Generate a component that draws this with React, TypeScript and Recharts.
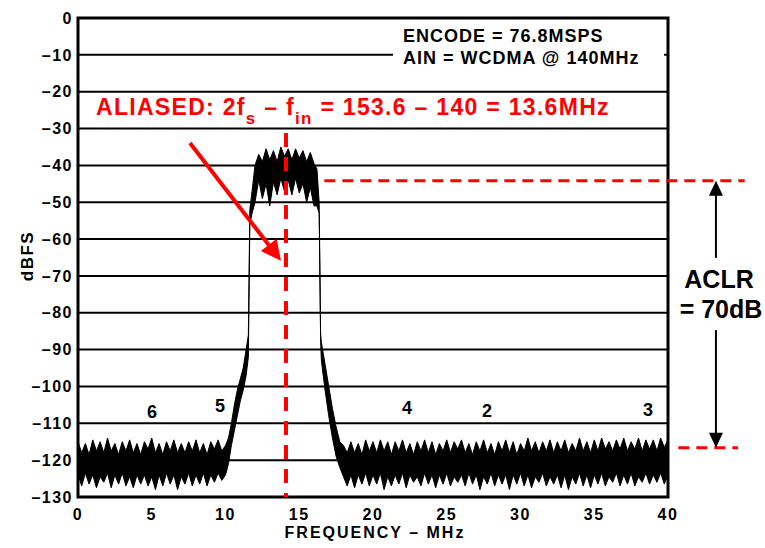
import React from "react";
import { ComposedChart, Area, XAxis, YAxis, CartesianGrid, ReferenceLine, ReferenceArea } from "recharts";

const FONT = '"Liberation Sans", Arial, Helvetica, sans-serif';
const RED = "#ff0000";

// frequency bins, MHz
const freqMHz = [
  0, 0.25, 0.5, 0.75, 1, 1.25, 1.5, 1.75, 2, 2.25,
  2.5, 2.75, 3, 3.25, 3.5, 3.75, 4, 4.25, 4.5, 4.75,
  5, 5.25, 5.5, 5.75, 6, 6.25, 6.5, 6.75, 7, 7.25,
  7.5, 7.75, 8, 8.25, 8.5, 8.75, 9, 9.25, 9.5, 9.75,
  10, 10.2, 10.4, 10.6, 10.8, 11, 11.2, 11.4, 11.55, 11.65,
  11.8, 12, 12.25, 12.5, 12.75, 13, 13.25, 13.5, 13.75, 14,
  14.25, 14.5, 14.75, 15, 15.25, 15.5, 15.75, 16, 16.2, 16.35,
  16.45, 16.5, 16.75, 17, 17.25, 17.5, 17.75, 18, 18.25, 18.5,
  18.75, 19, 19.25, 19.5, 19.75, 20, 20.25, 20.5, 20.75, 21,
  21.25, 21.5, 21.75, 22, 22.25, 22.5, 22.75, 23, 23.25, 23.5,
  23.75, 24, 24.25, 24.5, 24.75, 25, 25.25, 25.5, 25.75, 26,
  26.25, 26.5, 26.75, 27, 27.25, 27.5, 27.75, 28, 28.25, 28.5,
  28.75, 29, 29.25, 29.5, 29.75, 30, 30.25, 30.5, 30.75, 31,
  31.25, 31.5, 31.75, 32, 32.25, 32.5, 32.75, 33, 33.25, 33.5,
  33.75, 34, 34.25, 34.5, 34.75, 35, 35.25, 35.5, 35.75, 36,
  36.25, 36.5, 36.75, 37, 37.25, 37.5, 37.75, 38, 38.25, 38.5,
  38.75, 39, 39.25, 39.5, 39.75, 40,
];

// upper envelope of the FFT trace, dBFS
const peakDbfs = [
  -115, -118, -115.5, -118.5, -114.5, -117.5, -115, -118, -114, -117.5,
  -115.5, -118.5, -115, -117.5, -114.5, -118, -115.5, -118.5, -115, -117,
  -114, -118, -115.5, -118.5, -115, -117.5, -114.5, -118, -115.5, -118,
  -115, -117.5, -114.5, -118, -115.5, -118.5, -115, -117, -114.5, -117.5,
  -116, -114, -110, -105, -101, -98, -95, -90, -86, -52,
  -47, -40, -37, -39, -35.5, -38.5, -36, -39, -35, -37.5,
  -35.5, -38.5, -35.5, -38, -36, -39, -36.5, -39.5, -41, -50,
  -86, -88, -94, -100, -106, -111, -115, -116, -118, -115,
  -118, -115.5, -118.5, -114.5, -117.5, -115, -118, -114.5, -117.5, -115,
  -118.5, -115, -117.5, -114.5, -118, -115.5, -118.5, -115, -117.5, -114.5,
  -118, -115, -118.5, -115.5, -117.5, -114.5, -118, -115, -117, -114.5,
  -118, -115.5, -118.5, -115, -117.5, -114.5, -118, -115.5, -118.5, -115,
  -117.5, -114.5, -118, -115, -118.5, -115.5, -117.5, -114, -117.5, -115,
  -118, -115, -117.5, -114.5, -118, -115, -117.5, -114.5, -118, -115.5,
  -117.5, -114, -117.5, -115, -118, -114.5, -117.5, -114, -117, -115,
  -117.5, -114.5, -117, -114, -117.5, -115, -117, -114, -117.5, -114.5,
  -117, -114.5, -117.5, -114, -116.5, -114.5,
];

// lower envelope of the FFT trace, dBFS
const floorDbfs = [
  -124, -127, -123.5, -126.5, -124, -127.5, -124.5, -126, -123.5, -127.5,
  -124, -126.5, -123.5, -127, -124.5, -127.5, -124, -126.5, -124, -127,
  -124.5, -128, -124, -127, -123.5, -126.5, -124, -128, -124.5, -126.5,
  -123.5, -127, -124, -126.5, -123.5, -127, -124, -126, -123.5, -125.5,
  -124, -121, -116, -112, -108, -104, -101, -97, -92, -56,
  -53, -50, -44, -49, -45, -51, -44.5, -48, -43.5, -47,
  -44, -48, -43.5, -47.5, -45, -50, -46, -51, -51, -53,
  -88, -93, -101, -108, -114, -119, -122, -124.5, -127, -124,
  -127.5, -124, -126.5, -123.5, -127, -124, -126.5, -123.5, -128, -124.5,
  -127, -124, -126.5, -123.5, -127.5, -124, -126, -124.5, -127, -123.5,
  -126.5, -124, -127.5, -124, -126.5, -123.5, -127, -124.5, -126, -124,
  -127, -123.5, -126.5, -124, -128, -124.5, -126.5, -123.5, -127, -124,
  -126.5, -124, -128, -124, -126.5, -123.5, -127, -124, -127.5, -124.5,
  -126, -123.5, -127, -124.5, -126.5, -124, -127.5, -124, -128, -124.5,
  -126.5, -123.5, -127, -124, -127.5, -124, -126.5, -123.5, -127, -124.5,
  -126, -123.5, -127, -124, -126.5, -123.5, -127, -124.5, -126, -123.5,
  -126.5, -124, -126, -123.5, -126.5, -124,
];

const xTicks = [0, 5, 10, 15, 20, 25, 30, 35, 40];
const yTicks = [0, -10, -20, -30, -40, -50, -60, -70, -80, -90, -100, -110, -120, -130];

// annotation values (MHz / dBFS)
const aliasMarkerMHz = 14.1;
const carrierLevel = -44.2;
const noiseLevel = -116.6;
const aclrArrowMHz = 43.25;

const spectrum = freqMHz.map((f, i) => ({ f, band: [floorDbfs[i], peakDbfs[i]] }));

const fmtDb = (v: number) => (v < 0 ? "\u2013" + Math.abs(v) : String(v));

const XTick = (p: any) => (
  <text x={p.x} y={p.y} dy="0.71em" textAnchor="middle" fontFamily={FONT} fontSize={16}
    fontWeight="bold" letterSpacing={1.5} fill="#000">
    {p.payload.value}
  </text>
);

const YTick = (p: any) => (
  <text x={p.x} y={p.y} dy="0.355em" textAnchor="end" fontFamily={FONT} fontSize={16}
    fontWeight="bold" letterSpacing={1.5} fill="#000">
    {fmtDb(p.payload.value)}
  </text>
);

// line with arrow heads, drawn from the reference line's end points
const arrowShape = (color: string, width: number, len: number, half: number, atStart: boolean, atEnd: boolean) =>
  (p: any) => {
    const { x1, y1, x2, y2 } = p;
    const dx = x2 - x1;
    const dy = y2 - y1;
    const d = Math.sqrt(dx * dx + dy * dy) || 1;
    const ux = dx / d;
    const uy = dy / d;
    const head = (tx: number, ty: number, sx: number, sy: number) => {
      const bx = tx - sx * len;
      const by = ty - sy * len;
      return `${tx},${ty} ${bx - sy * half},${by + sx * half} ${bx + sy * half},${by - sx * half}`;
    };
    const ax = atStart ? x1 + ux * len * 0.8 : x1;
    const ay = atStart ? y1 + uy * len * 0.8 : y1;
    const bx = atEnd ? x2 - ux * len * 0.8 : x2;
    const by = atEnd ? y2 - uy * len * 0.8 : y2;
    return (
      <g>
        <line x1={ax} y1={ay} x2={bx} y2={by} stroke={color} strokeWidth={width} />
        {atStart && <polygon points={head(x1, y1, -ux, -uy)} fill={color} />}
        {atEnd && <polygon points={head(x2, y2, ux, uy)} fill={color} />}
      </g>
    );
  };

const txt = { fontFamily: FONT, fontWeight: "bold" as const };

export default function App() {
  return (
    <div style={{ position: "absolute", left: 0, top: 0, width: 765, height: 548, background: "#fff" }}>
      <ComposedChart width={765} height={548} data={spectrum} margin={{ top: 18, right: 97, bottom: 0, left: 0 }}>
        <CartesianGrid vertical={false} stroke="#000" strokeWidth={2} />
        <XAxis type="number" dataKey="f" domain={[0, 40]} ticks={xTicks} interval={0} height={51}
          tickSize={0} tickMargin={12} axisLine={false} tickLine={false} tick={<XTick />} />
        <YAxis type="number" domain={[-130, 0]} ticks={yTicks} interval={0} width={78}
          tickSize={0} tickMargin={5} axisLine={false} tickLine={false} tick={<YTick />} />
        <Area type="linear" dataKey="band" stroke="#000" strokeWidth={1} fill="#000" fillOpacity={1}
          isAnimationActive={false} dot={false} activeDot={false} />
        <ReferenceArea x1={0} x2={40} y1={-130} y2={0} fill="none" stroke="#000" strokeWidth={3} ifOverflow="visible" />
        <ReferenceLine segment={[{ x: aliasMarkerMHz, y: -31.2 }, { x: aliasMarkerMHz, y: -130 }]}
          stroke={RED} strokeWidth={4} strokeDasharray="14 10" ifOverflow="visible" />
        <ReferenceLine segment={[{ x: 16.7, y: carrierLevel }, { x: 45.2, y: carrierLevel }]}
          stroke={RED} strokeWidth={3} strokeDasharray="11 7" ifOverflow="visible" />
        <ReferenceLine segment={[{ x: 40.7, y: noiseLevel }, { x: 44.75, y: noiseLevel }]}
          stroke={RED} strokeWidth={3} strokeDasharray="11 7" ifOverflow="visible" />
        <ReferenceLine segment={[{ x: 7.59, y: -33.9 }, { x: 13.76, y: -65.9 }]} ifOverflow="visible"
          shape={arrowShape(RED, 4, 20, 10, false, true)} />
        <ReferenceLine segment={[{ x: aclrArrowMHz, y: carrierLevel }, { x: aclrArrowMHz, y: -65.1 }]} ifOverflow="visible"
          shape={arrowShape("#000", 2, 15, 7, true, false)} />
        <ReferenceLine segment={[{ x: aclrArrowMHz, y: -84.7 }, { x: aclrArrowMHz, y: noiseLevel }]} ifOverflow="visible"
          shape={arrowShape("#000", 2, 15, 7, false, true)} />
      </ComposedChart>
      <svg width={765} height={548} style={{ position: "absolute", left: 0, top: 0, pointerEvents: "none" }}>
        <rect x={393} y={21} width={271} height={64} fill="#fff" />
        <text x={403} y={42} fontSize={18} letterSpacing={1} fill="#000" {...txt}>ENCODE = 76.8MSPS</text>
        <text x={403} y={64} fontSize={18} letterSpacing={1} fill="#000" {...txt}>AIN = WCDMA @ 140MHz</text>
        <text x={96} y={115} fontSize={23} letterSpacing={1.3} fill={RED} {...txt}>
          ALIASED: 2f<tspan dy={9} fontSize={17}>s</tspan>
          <tspan dy={-9}> {"\u2013"} f</tspan>
          <tspan dy={9} fontSize={17}>in</tspan>
          <tspan dy={-9}> = 153.6 {"\u2013"} 140 = 13.6MHz</tspan>
        </text>
        <text x={152} y={418} fontSize={18} textAnchor="middle" fill="#000" {...txt}>6</text>
        <text x={220} y={412} fontSize={18} textAnchor="middle" fill="#000" {...txt}>5</text>
        <text x={407} y={414} fontSize={18} textAnchor="middle" fill="#000" {...txt}>4</text>
        <text x={487} y={417} fontSize={18} textAnchor="middle" fill="#000" {...txt}>2</text>
        <text x={648} y={416} fontSize={18} textAnchor="middle" fill="#000" {...txt}>3</text>
        <text x={719} y={288} fontSize={25} textAnchor="middle" fill="#000" {...txt}>ACLR</text>
        <text x={721} y={318} fontSize={25} textAnchor="middle" fill="#000" {...txt}>= 70dB</text>
        <text x={33} y={256} fontSize={17} letterSpacing={1.5} textAnchor="middle" fill="#000"
          transform="rotate(-90 33 256)" {...txt}>dBFS</text>
        <text x={375} y={538} fontSize={16} letterSpacing={2} textAnchor="middle" fill="#000" {...txt}>
          FREQUENCY {"\u2013"} MHz
        </text>
      </svg>
    </div>
  );
}
